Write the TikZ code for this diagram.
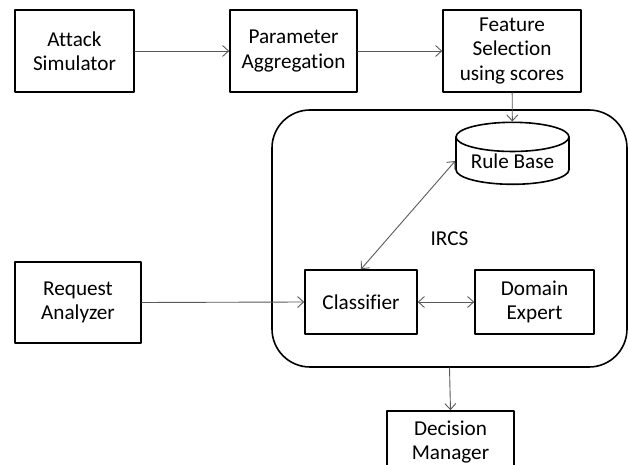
\documentclass[tikz,border=0pt]{standalone}
\usepackage{fontspec}
\setmainfont{Carlito}[Ligatures=NoCommon]
\usetikzlibrary{arrows.meta,shapes.geometric}

\begin{document}
\begin{tikzpicture}[x=0.5pt,y=-0.5pt,line cap=round,line join=round,
  font=\fontsize{10.6}{12.2}\selectfont,
  block/.style={draw=black,line width=0.8pt,align=center,inner sep=0pt},
  link/.style={draw=black!65,line width=0.45pt,-{Straight Barb[length=3pt,width=5.5pt]}},
  duplex/.style={link,{Straight Barb[length=3pt,width=5.5pt]}-{Straight Barb[length=3pt,width=5.5pt]}}]
  \useasboundingbox (0,0) rectangle (628,465);
  \node[block,rounded corners=19pt,minimum width=177.5pt,minimum height=128.5pt] (ircs) at (449.5,238.5) {IRCS};
  \node[block,minimum width=59.5pt,minimum height=41pt] (attack) at (74.5,51) {Attack\\Simulator};
  \node[block,minimum width=63.5pt,minimum height=41pt] (param) at (293.5,51) {Parameter\\Aggregation};
  \node[block,minimum width=69pt,minimum height=41pt] (feature) at (512,51) {Feature\\Selection\\using scores};
  \node[block,cylinder,shape border rotate=90,aspect=0.35,minimum width=56.5pt,minimum height=31pt] (rules) at (512.5,161) {Rule Base};
  \node[block,minimum width=63pt,minimum height=40.5pt] (request) at (78,302.5) {Request\\Analyzer};
  \node[block,minimum width=56pt,minimum height=32pt] (classifier) at (361,302) {Classifier};
  \node[block,minimum width=59.5pt,minimum height=32pt] (domain) at (534.5,302) {Domain\\Expert};
  \node[block,minimum width=63.5pt,minimum height=31pt] (decision) at (450.5,442) {Decision\\Manager};
  \draw[link] (attack) -- (param);
  \draw[link] (param) -- (feature);
  \draw[link] (feature) -- (rules);
  \draw[link] (request.east) -- (classifier.west);
  \draw[duplex] (classifier) -- (domain);
  \draw[duplex] (classifier.north) -- (rules.west);
  \draw[link] (ircs.south) -- (decision.north);
\end{tikzpicture}
\end{document}
